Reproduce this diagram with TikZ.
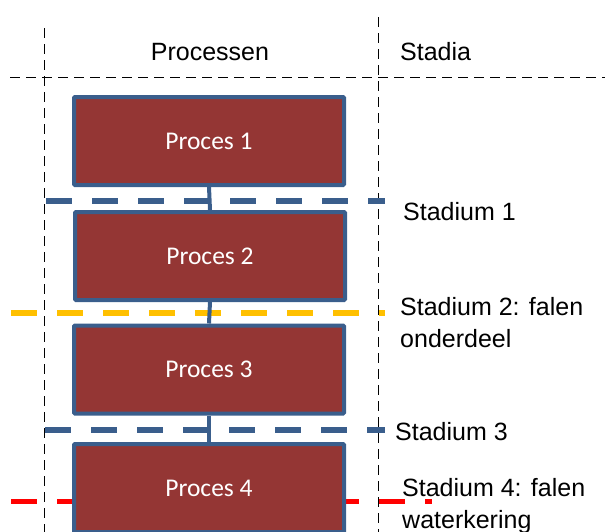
\documentclass[tikz,border=0pt]{standalone}
\usepackage{fontspec}
\setmainfont{Liberation Sans}
\newfontfamily\boxfont{Carlito}
\definecolor{procred}{HTML}{943634}
\definecolor{procblue}{HTML}{3A5E8C}
\definecolor{stageyellow}{HTML}{FFC000}
\definecolor{stagered}{HTML}{FF0000}
\begin{document}
\begin{tikzpicture}[x=1pt,y=-1pt,
  grid/.style={black,line width=1pt,dash pattern=on 10pt off 6pt},
  procbox/.style={draw=procblue,fill=procred,line width=4pt,rounded corners=1pt,
    minimum width=270pt,minimum height=88pt,inner sep=0pt,
    text=white,font=\boxfont\fontsize{25.5}{30}\selectfont},
  link/.style={draw=procblue,line width=4pt},
  stageline/.style={line width=6pt,dash pattern=on 26pt off 20pt},
  label/.style={anchor=west,inner sep=0pt,align=left,
    font=\fontsize{25}{32}\selectfont}]
\useasboundingbox (0,0) rectangle (605,531);
\clip (0,0) rectangle (605,531);

% column grid
\coordinate (gl0) at (44,28);  \coordinate (gl1) at (44,540);
\coordinate (gr0) at (378,17); \coordinate (gr1) at (378,540);
\coordinate (gh0) at (10,77);  \coordinate (gh1) at (605,77);
\draw[grid] (gl0) -- (gl1);
\draw[grid] (gr0) -- (gr1);
\draw[grid] (gh0) -- (gh1);

\node[font=\fontsize{25}{30}\selectfont] (hproc) at (210,52) {Processen};
\node[font=\fontsize{25}{30}\selectfont,anchor=west,inner sep=0pt] (hstad) at (400,52) {Stadia};

% stage boundaries
\coordinate (s1a) at (46,201);  \coordinate (s1b) at (385,201);
\coordinate (s2a) at (11,313);  \coordinate (s2b) at (385,313);
\coordinate (s3a) at (45,430);  \coordinate (s3b) at (385,430);
\coordinate (s4a) at (11,501);  \coordinate (s4b) at (432,501);
\draw[stageline,procblue] (s1a) -- (s1b);
\draw[stageline,stageyellow] (s2a) -- (s2b);
\draw[stageline,procblue] (s3a) -- (s3b);
\draw[stageline,stagered,line width=5pt] (s4a) -- (s4b);

% processes
\node[procbox] (p1) at (209,141) {Proces 1};
\node[procbox] (p2) at (210,256) {Proces 2};
\node[procbox] (p3) at (209,369.5) {Proces 3};
\node[procbox] (p4) at (209,488) {Proces 4};

\draw[link] (p1.south) -- (p2.north);
\draw[link] (p2.south) -- (p3.north);
\draw[link] (p3.south) -- (p4.north);

% stage labels
\node[label] (l1) at (403,212) {Stadium 1};
\node[label,anchor=north west] (l2) at (400,297) {Stadium 2: falen\\onderdeel};
\node[label] (l3) at (395,432) {Stadium 3};
\node[label,anchor=north west] (l4) at (402,478) {Stadium 4: falen\\waterkering};
\end{tikzpicture}
\end{document}
